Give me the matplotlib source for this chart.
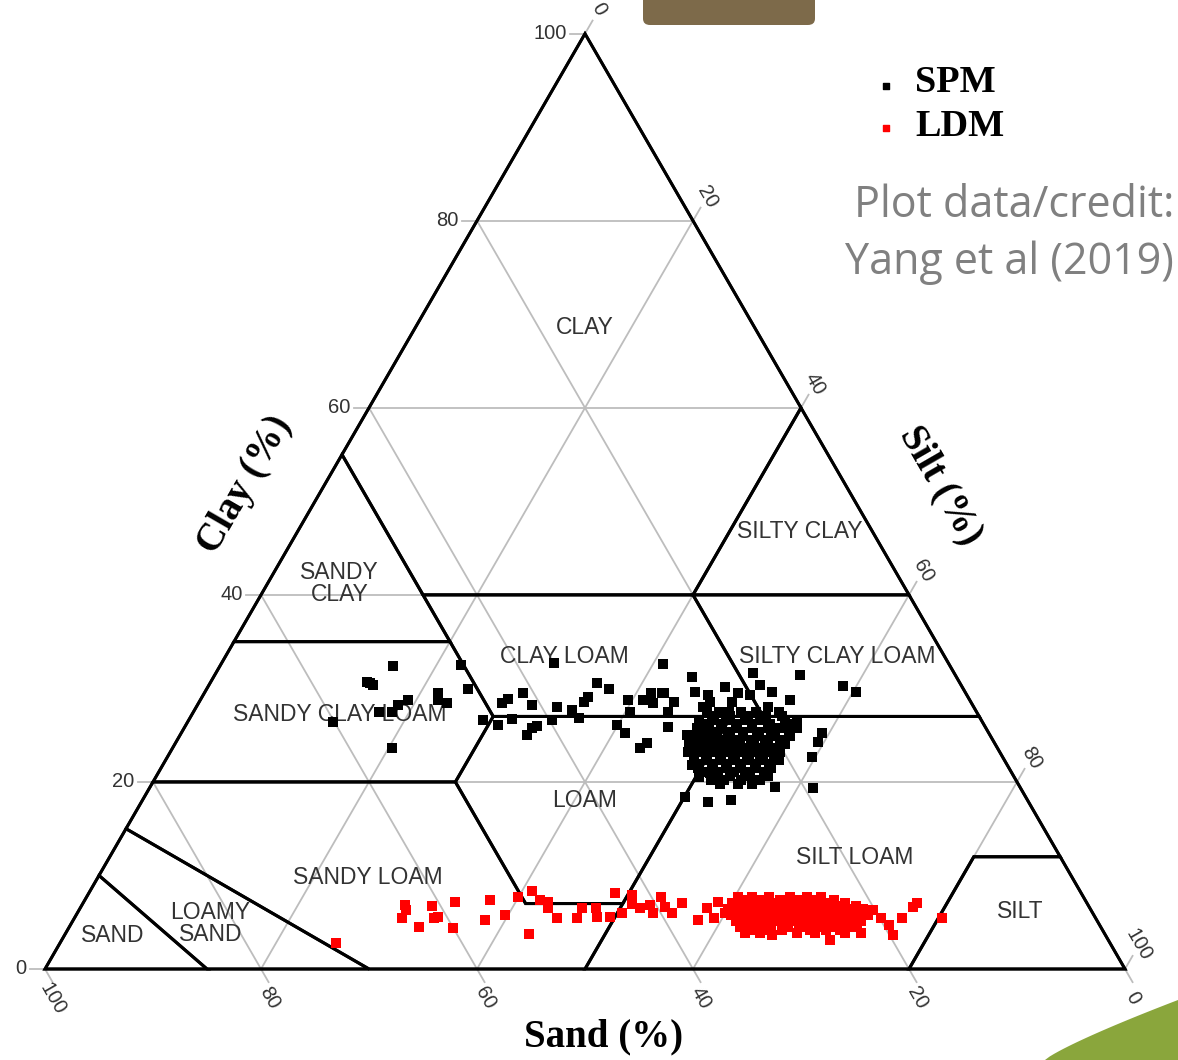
import numpy as np
import matplotlib
matplotlib.use("Agg")
import matplotlib.pyplot as plt
from matplotlib.patches import Polygon, FancyBboxPatch

# --- data: SPM (suspended particulate matter) samples, sand % and clay % ---
spm_sand = [51.6, 54.6, 54.4, 54.8, 52.0, 48.9, 49.2, 48.6, 53.2, 55.3, 54.1, 56.1, 60.1,
            45.2, 45.9, 46.1, 45.0, 43.5, 42.7, 43.4, 41.0, 40.8, 42.9, 42.0, 41.4, 39.8,
            38.6, 36.5, 37.4, 37.2, 35.8, 35.2, 33.6, 32.8, 34.0, 33.7, 31.6, 32.1, 33.1,
            32.2, 30.2, 29.1, 29.5, 28.1, 26.5, 24.5, 18.6, 14.4, 27.9, 25.0, 21.9, 27.5,
            28.6, 24.0, 24.2, 25.1, 22.1, 21.1, 18.6, 17.9, 16.6, 22.9, 20.1, 19.1, 29.4,
            28.1, 17.1, 15.5, 16.3, 17.6, 29.2, 29.2, 27.9, 19.2, 29.7, 27.4, 31.5, 22.7,
            23.7, 11.0, 10.1,
            25.0, 23.8, 21.8, 20.4, 18.3,
            24.7, 23.1, 21.4, 19.7, 18.3,
            26.1, 24.8, 23.6, 21.9, 20.5, 18.2,
            25.7, 24.3, 22.9, 21.4, 19.8, 17.9,
            26.7, 25.6, 24.4, 23.0, 21.6, 20.2, 19.0, 17.5,
            26.6, 25.4, 24.1, 22.7, 21.2, 19.8, 18.5,
            27.6, 26.5, 25.4, 24.1, 22.9, 21.6, 20.3, 18.6,
            27.3, 26.1, 24.9, 23.7, 22.4, 21.1, 19.7,
            28.3, 27.2, 26.0, 24.8, 23.6, 22.3, 21.0, 19.4,
            28.0, 26.8, 25.6, 24.4, 23.2, 21.9, 20.5,
            28.9, 27.8, 26.5, 25.3, 24.0, 22.8, 21.6, 20.3,
            28.5, 27.4, 26.1, 24.9, 23.6, 22.4, 21.1,
            28.8, 27.6, 26.3, 25.0, 23.7, 22.4, 20.9,
            28.5, 27.2, 25.9, 24.6, 23.3, 22.0,
            28.8, 27.5, 26.2, 24.9, 23.4, 22.0,
            28.4, 27.1, 25.7, 24.2, 22.9,
            27.6, 26.3, 24.9, 22.8,
            28.2, 27.0, 25.5, 24.2,
            27.6, 25.9, 24.6]
spm_clay = [32.4, 30.6, 30.4, 30.7, 28.8, 29.5, 28.8, 28.4, 28.2, 27.5, 27.5, 23.6, 26.4,
            32.5, 29.9, 26.6, 26.1, 28.4, 28.9, 26.7, 29.5, 28.2, 25.0, 25.8, 26.0, 26.6,
            28.0, 32.7, 27.7, 26.8, 28.5, 29.1, 30.6, 29.9, 26.1, 25.2, 28.8, 27.5, 23.6,
            24.2, 28.8, 29.5, 28.4, 29.5, 32.6, 31.2, 31.6, 31.4, 29.5, 29.6, 30.2, 28.5,
            27.5, 29.3, 28.5, 28.0, 28.5, 29.5, 30.4, 29.6, 28.8, 27.5, 29.3, 28.0, 25.9,
            25.0, 26.6, 25.2, 24.3, 22.7, 21.8, 20.5, 21.0, 19.4, 17.9, 18.1, 18.4, 19.5,
            20.2, 30.3, 29.6,
            27.5, 27.5, 27.5, 27.5, 27.5,
            27.0, 27.0, 27.0, 27.0, 27.0,
            26.6, 26.6, 26.6, 26.6, 26.6, 26.6,
            26.2, 26.2, 26.2, 26.2, 26.2, 26.2,
            25.8, 25.8, 25.8, 25.8, 25.8, 25.8, 25.8, 25.8,
            25.3, 25.3, 25.3, 25.3, 25.3, 25.3, 25.3,
            24.9, 24.9, 24.9, 24.9, 24.9, 24.9, 24.9, 24.9,
            24.5, 24.5, 24.5, 24.5, 24.5, 24.5, 24.5,
            24.1, 24.1, 24.1, 24.1, 24.1, 24.1, 24.1, 24.1,
            23.6, 23.6, 23.6, 23.6, 23.6, 23.6, 23.6,
            23.2, 23.2, 23.2, 23.2, 23.2, 23.2, 23.2, 23.2,
            22.8, 22.8, 22.8, 22.8, 22.8, 22.8, 22.8,
            22.3, 22.3, 22.3, 22.3, 22.3, 22.3, 22.3,
            21.9, 21.9, 21.9, 21.9, 21.9, 21.9,
            21.5, 21.5, 21.5, 21.5, 21.5, 21.5,
            21.1, 21.1, 21.1, 21.1, 21.1,
            20.6, 20.6, 20.6, 20.6,
            20.2, 20.2, 20.2, 20.2,
            19.8, 19.8, 19.8]

# --- data: LDM (lake deposited material) samples, sand % and clay % ---
ldm_sand = [71.7, 63.3, 63.4, 64.2, 63.1, 60.8, 60.8, 61.2, 58.4, 60.0, 56.7, 55.1, 54.5,
            52.4, 50.8, 53.3, 50.5, 49.8, 50.2, 49.8, 48.0, 47.0, 45.7, 46.1, 44.9, 43.2,
            43.6, 41.7, 42.2, 41.7, 40.6, 40.7, 39.1, 39.3, 38.9, 37.5, 36.9, 35.5, 35.3,
            34.1, 34.0, 33.3, 30.9, 25.8, 17.9, 19.7, 16.3, 15.7, 14.2, 20.2, 19.8, 19.5,
            32.0, 30.7, 29.1, 27.2, 25.6, 24.3,
            31.5, 30.1, 28.2, 26.6, 25.0, 23.2,
            32.8, 31.7, 30.5, 29.2, 27.9, 26.6, 25.2, 23.8, 22.4,
            32.4, 31.2, 30.0, 28.7, 27.4, 26.1, 24.8, 23.3, 21.6,
            33.6, 32.4, 31.2, 30.0, 28.7, 27.4, 26.2, 24.9, 23.6, 22.2, 21.1,
            33.2, 32.0, 30.8, 29.6, 28.3, 27.0, 25.8, 24.5, 23.1, 21.7,
            33.6, 32.4, 31.2, 29.9, 28.7, 27.4, 26.1, 24.8, 23.4, 22.0, 20.9,
            33.2, 32.0, 30.7, 29.4, 28.2, 26.9, 25.6, 24.3, 22.9, 21.7,
            33.5, 32.2, 31.0, 29.7, 28.4, 27.1, 25.8, 24.4, 23.1, 21.9,
            33.0, 31.7, 30.4, 29.1, 27.8, 26.5, 25.2, 23.7, 22.4,
            33.4, 32.0, 30.5, 29.0, 27.6, 26.2, 24.6, 23.1,
            32.6, 31.1, 29.7, 27.1, 25.6, 24.3,
            31.9, 28.4, 26.8, 24.0, 22.5]
ldm_clay = [2.8, 6.8, 6.3, 5.5, 4.5, 6.7, 5.6, 5.5, 7.2, 4.4, 5.2, 7.4, 5.8,
            7.7, 8.3, 3.7, 7.4, 7.2, 6.5, 5.5, 5.5, 6.5, 6.5, 5.6, 5.6, 8.1,
            6.0, 7.9, 6.9, 6.5, 6.8, 6.0, 7.7, 6.6, 6.0, 7.1, 5.2, 6.5, 5.5,
            7.2, 6.0, 3.85, 3.6, 3.1, 5.5, 3.6, 6.6, 7.1, 5.5, 6.3, 5.5, 4.7,
            7.7, 7.7, 7.7, 7.7, 7.7, 7.7,
            7.4, 7.4, 7.4, 7.4, 7.4, 7.4,
            7.1, 7.1, 7.1, 7.1, 7.1, 7.1, 7.1, 7.1, 7.1,
            6.7, 6.7, 6.7, 6.7, 6.7, 6.7, 6.7, 6.7, 6.7,
            6.4, 6.4, 6.4, 6.4, 6.4, 6.4, 6.4, 6.4, 6.4, 6.4, 6.4,
            6.1, 6.1, 6.1, 6.1, 6.1, 6.1, 6.1, 6.1, 6.1, 6.1,
            5.8, 5.8, 5.8, 5.8, 5.8, 5.8, 5.8, 5.8, 5.8, 5.8, 5.8,
            5.45, 5.45, 5.45, 5.45, 5.45, 5.45, 5.45, 5.45, 5.45, 5.45,
            5.1, 5.1, 5.1, 5.1, 5.1, 5.1, 5.1, 5.1, 5.1, 5.1,
            4.8, 4.8, 4.8, 4.8, 4.8, 4.8, 4.8, 4.8, 4.8,
            4.5, 4.5, 4.5, 4.5, 4.5, 4.5, 4.5, 4.5,
            4.2, 4.2, 4.2, 4.2, 4.2, 4.2,
            3.85, 3.85, 3.85, 3.85, 3.85]

# --- USDA texture class polygons as (sand, clay) vertices ---
classes = {
    "CLAY": [(0, 100), (0, 60), (20, 40), (45, 40), (45, 55)],
    "SANDY CLAY": [(45, 55), (45, 35), (65, 35)],
    "SILTY CLAY": [(0, 60), (0, 40), (20, 40)],
    "CLAY LOAM": [(20, 40), (20, 27), (45, 27), (45, 40)],
    "SILTY CLAY LOAM": [(0, 40), (0, 27), (20, 27), (20, 40)],
    "SANDY CLAY LOAM": [(45, 35), (45, 27), (52, 20), (80, 20), (65, 35)],
    "LOAM": [(45, 27), (23, 27), (43, 7), (52, 7), (52, 20)],
    "SILT LOAM": [(23, 27), (0, 27), (0, 12), (8, 12), (20, 0), (50, 0), (43, 7)],
    "SILT": [(0, 12), (0, 0), (20, 0), (8, 12)],
    "SANDY LOAM": [(52, 20), (80, 20), (85, 15), (70, 0), (50, 0), (43, 7), (52, 7)],
    "LOAMY SAND": [(85, 15), (90, 10), (85, 0), (70, 0)],
    "SAND": [(90, 10), (100, 0), (85, 0)],
}
ticks = [0, 20, 40, 60, 80, 100]

H = np.sqrt(3) / 2


def tern(sand, clay):
    sand = np.asarray(sand, float)
    clay = np.asarray(clay, float)
    return 100 - sand - clay / 2, clay * H


fig = plt.figure(figsize=(11.78, 10.6), dpi=100)
ax = fig.add_axes([0, 0, 1, 1])
ax.set_xlim(-45 / 10.8, (1178 - 45) / 10.8)
ax.set_ylim((969 - 1060) / 10.8, 969 / 10.8)
ax.set_aspect("equal")
ax.axis("off")

grid_c = "#bdbdbd"
tl = 1.4  # tick length, data units
lab_font = dict(family="Liberation Sans", fontsize=14.5, color="#333333")

# grid lines + ticks
for v in ticks:
    # clay = v (horizontal)
    x0, y0 = tern(100 - v, v)
    x1, y1 = tern(0, v)
    if 0 < v < 100:
        ax.plot([x0, x1], [y0, y1], color=grid_c, lw=1.3, zorder=1)
    ax.plot([x0 - tl, x0], [y0, y0], color=grid_c, lw=1.3, zorder=1)
    ax.text(x0 - tl - 0.3, y0, str(v), ha="right", va="center", **lab_font)
    # silt = v (parallel to left edge)
    x0, y0 = tern(100 - v, 0)
    x1, y1 = tern(0, 100 - v)
    if 0 < v < 100:
        ax.plot([x0, x1], [y0, y1], color=grid_c, lw=1.3, zorder=1)
    ax.plot([x1, x1 + tl * 0.5], [y1, y1 + tl * H], color=grid_c, lw=1.3, zorder=1)
    ax.text(x1 + 2.6 * 0.5, y1 + 2.6 * H, str(v), ha="center", va="center",
            rotation=-60, **lab_font)
    # sand = v (parallel to right edge)
    x0, y0 = tern(v, 100 - v)
    x1, y1 = tern(v, 0)
    if 0 < v < 100:
        ax.plot([x0, x1], [y0, y1], color=grid_c, lw=1.3, zorder=1)
    ax.plot([x1, x1 + tl * 0.5], [y1, y1 - tl * H], color=grid_c, lw=1.3, zorder=1)
    ax.text(x1 + 2.9 * 0.5 - 0.7, y1 - 2.9 * H - 0.2, str(v), ha="center",
            va="center", rotation=-60, **lab_font)

# class boundaries
for name, verts in classes.items():
    s, c = zip(*verts)
    xs, ys = tern(s, c)
    ax.add_patch(Polygon(np.column_stack([xs, ys]), closed=True, fill=False,
                         ec="black", lw=2.2, zorder=2, joinstyle="miter"))

# outline
xs, ys = tern([100, 0, 0], [0, 0, 100])
ax.add_patch(Polygon(np.column_stack([xs, ys]), closed=True, fill=False,
                     ec="black", lw=2.0, zorder=3))

# class labels (positions in plot units)
cls_font = dict(family="Liberation Sans", fontsize=16.5, color="#333333",
                ha="center", va="center", zorder=4)
ax.text(50.0, 59.4, "CLAY", **cls_font)
ax.text(27.3, 35.7, "SANDY\nCLAY", linespacing=0.95, **cls_font)
ax.text(69.9, 40.5, "SILTY CLAY", **cls_font)
ax.text(48.1, 28.9, "CLAY LOAM", **cls_font)
ax.text(73.4, 28.9, "SILTY CLAY LOAM", **cls_font)
ax.text(27.3, 23.6, "SANDY CLAY LOAM", **cls_font)
ax.text(50.0, 15.6, "LOAM", **cls_font)
ax.text(75.0, 10.3, "SILT LOAM", **cls_font)
ax.text(29.9, 8.5, "SANDY LOAM", **cls_font)
ax.text(90.3, 5.3, "SILT", **cls_font)
ax.text(15.3, 4.2, "LOAMY\nSAND", linespacing=0.95, **cls_font)
ax.text(6.3, 3.1, "SAND", **cls_font)

# samples
x, y = tern(spm_sand, spm_clay)
ax.scatter(x, y, marker="s", s=46, color="black", lw=0, zorder=5)
x, y = tern(ldm_sand, ldm_clay)
ax.scatter(x, y, marker="s", s=46, color="red", lw=0, zorder=5)

# axis titles
ttl = dict(family="Liberation Serif", fontweight="bold", fontsize=28,
           ha="center", va="center")
ax.text(18.5, 44.8, "Clay (%)", rotation=60, **ttl)
ax.text(82.9, 44.8, "Silt (%)", rotation=-60, **ttl)
ax.text(51.7, -6.3, "Sand (%)", **ttl)

# legend
leg = dict(family="Liberation Serif", fontweight="bold", fontsize=27.5,
           va="center", ha="left")
fig.text(915 / 1178, 1 - 82 / 1060, "SPM", **leg)
fig.text(915 / 1178, 1 - 126 / 1060, "LDM", **leg)
ax.scatter([886 / 1178], [1 - 86 / 1060], marker="s", s=14, color="black",
           transform=fig.transFigure, zorder=6)
ax.scatter([886 / 1178], [1 - 128 / 1060], marker="s", s=14, color="red",
           transform=fig.transFigure, zorder=6)

# credit
cred = dict(family="Open Sans", fontsize=31, color="#808080", ha="right", va="center")
fig.text(1174 / 1178, 1 - 206 / 1060, "Plot data/credit:", **cred)
fig.text(1174 / 1178, 1 - 263 / 1060, "Yang et al (2019)", **cred)

# slide decorations
fig.patches.append(FancyBboxPatch((643 / 1178, 1 - 25 / 1060), 172 / 1178, 40 / 1060,
                                  boxstyle="round,pad=0,rounding_size=0.006",
                                  transform=fig.transFigure, fc="#7d6a4a", ec="none"))
t = np.linspace(0, 1, 30)
gx = 1045 + (1178 - 1045) * t
gy = 1060 - 60 * t ** 0.85
green = np.column_stack([np.r_[gx, 1178], np.r_[gy, 1060]])
green[:, 0] /= 1178
green[:, 1] = 1 - green[:, 1] / 1060
fig.patches.append(Polygon(green, closed=True, transform=fig.transFigure,
                           fc="#8aa63c", ec="none"))

fig.savefig("out.png", dpi=100)
